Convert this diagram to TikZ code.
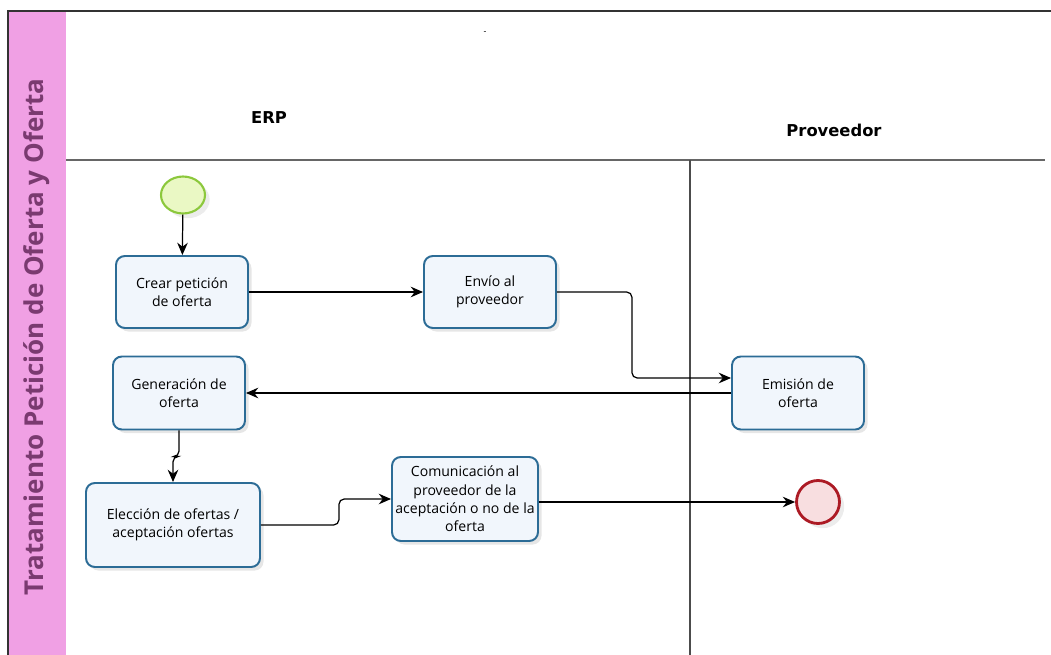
\documentclass[tikz,border=0pt]{standalone}
\usepackage{fontspec}
\setmainfont{Open Sans}
\newfontfamily\carril{DejaVu Sans}
\usepackage{tikz}
\usetikzlibrary{arrows.meta,shapes.geometric,shadows}

\definecolor{banda}{RGB}{240,160,228}
\definecolor{titulo}{RGB}{122,58,112}
\definecolor{borde}{RGB}{44,108,150}
\definecolor{relleno}{RGB}{241,246,252}
\definecolor{verde}{RGB}{140,200,60}
\definecolor{verdeclaro}{RGB}{234,248,196}
\definecolor{rojo}{RGB}{172,26,36}
\definecolor{rosa}{RGB}{248,222,224}

\tikzset{
  tarea/.style={draw=borde,fill=relleno,line width=1.1pt,rounded corners=5pt,
    align=center,font=\fontsize{8}{10.4}\selectfont,
    drop shadow={opacity=0.2,shadow xshift=2pt,shadow yshift=-2pt}},
  flujo/.style={-{Stealth[length=7pt,width=6pt]},line width=0.7pt,rounded corners=3pt},
  carriltexto/.style={font=\carril\fontsize{9.3}{11}\selectfont\bfseries},
}

\begin{document}
\begin{tikzpicture}[x=0.02cm,y=-0.02cm]
  \useasboundingbox (0,0) rectangle (1051,655);

  % pool y carriles
  \fill[banda] (8,11) rectangle (66,655);
  \draw[line width=1pt,black!80] (8,655) -- (8,11) -- (1051,11);
  \draw[black!60,line width=0.6pt] (66,160) -- (1045,160);
  \draw[black!70,line width=0.6pt] (690,160) -- (690,655);

  \node[rotate=90,text=titulo,font=\fontsize{14.8}{16}\selectfont\bfseries] (pool) at (37,337) {Tratamiento Petición de Oferta y Oferta};
  \node[carriltexto] (erp) at (269,118) {ERP};
  \node[carriltexto] (prov) at (834,130) {Proveedor};
  \node[font=\tiny,inner sep=0pt] (guion) at (485,33) {-};

  % eventos
  \node[ellipse,draw=verde,fill=verdeclaro,line width=1.2pt,minimum width=0.88cm,minimum height=0.74cm,
    drop shadow={opacity=0.15}] (inicio) at (183,195) {};
  \node[circle,draw=rojo,fill=rosa,line width=1.6pt,minimum size=0.86cm,
    drop shadow={opacity=0.15}] (fin) at (818,502) {};

  % tareas
  \node[tarea,minimum width=2.64cm,minimum height=1.44cm] (crear) at (182,292) {Crear petición\\de oferta};
  \node[tarea,minimum width=2.64cm,minimum height=1.44cm] (envio) at (490,292) {Envío al\\proveedor};
  \node[tarea,minimum width=2.64cm,minimum height=1.46cm] (emision) at (798,393) {Emisión de\\oferta};
  \node[tarea,minimum width=2.64cm,minimum height=1.46cm] (generacion) at (179,393) {Generación de\\oferta};
  \node[tarea,minimum width=3.48cm,minimum height=1.68cm] (eleccion) at (173,525) {Elección de ofertas /\\aceptación ofertas};
  \node[tarea,inner xsep=1.5pt,minimum width=2.92cm,minimum height=1.68cm] (comunicacion) at (465,499) {Comunicación al\\proveedor de la\\aceptación o no de la\\oferta};

  % flujos
  \draw[flujo] (inicio) -- (crear);
  \draw[flujo] (crear) -- (envio);
  \draw[flujo] (envio.east) -- ++(75,0) |- ([yshift=0.3cm]emision.west);
  \draw[flujo] (emision) -- (generacion);
  \draw[flujo] (generacion.south) -- ++(0,26) -| (eleccion.north);
  \draw[flujo] (eleccion.east) -- ++(78,0) |- (comunicacion.west);
  \draw[flujo] (comunicacion.east |- fin) -- (fin);
\end{tikzpicture}
\end{document}
